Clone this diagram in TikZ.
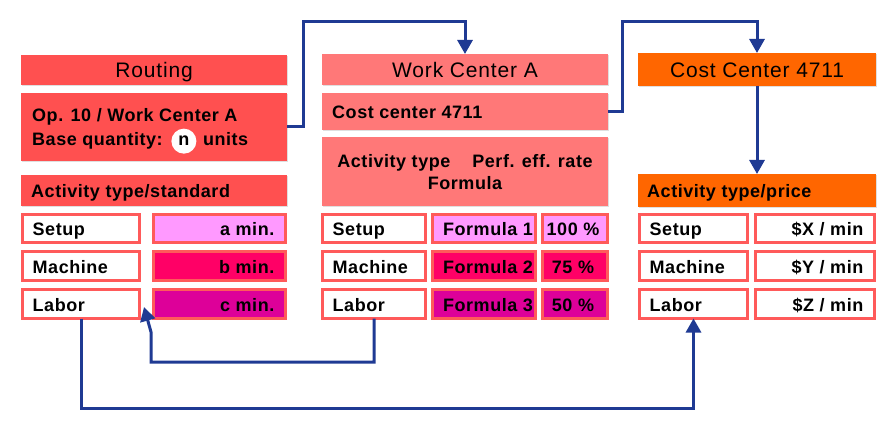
\documentclass[tikz,border=0pt]{standalone}
\usepackage{fontspec}
\setmainfont{Liberation Sans}
\newfontfamily\bodyfam{Liberation Sans}[LetterSpace=3]
\newfontfamily\headfam{Liberation Sans}[LetterSpace=4]
\usetikzlibrary{arrows.meta,shadows,calc}
\definecolor{rred}{HTML}{FF5050}
\definecolor{wred}{HTML}{FF7878}
\definecolor{corange}{HTML}{FF6600}
\definecolor{bord}{HTML}{FF5A5A}
\definecolor{lpink}{HTML}{FF99FF}
\definecolor{hpink}{HTML}{FF0066}
\definecolor{magen}{HTML}{DD0099}
\definecolor{arrblue}{HTML}{1F3A93}
\newcommand\boxnode[6]{\node[#2, anchor=north west, minimum width={(#5-#3)*1pt}, minimum height={(#6-#4)*1pt}] (#1) at (#3,#4) {};}
\newcommand\cellnode[6]{\node[#2, anchor=north west, minimum width={(#5-#3-3)*1pt}, minimum height={(#6-#4-3)*1pt}] (#1) at ({#3+1.5},{#4+1.5}) {};}
\begin{document}
\begin{tikzpicture}[x=1pt,y=-1pt,
  hdr/.style={fill=#1, draw=none, inner sep=0pt, outer sep=0pt,
    drop shadow={shadow xshift=1.2pt, shadow yshift=-1.5pt, opacity=0.25}},
  cellst/.style={fill=#1, draw=bord, line width=3pt, inner sep=0pt, outer sep=0pt},
  bt/.style={inner sep=0pt, font=\bodyfam\bfseries\fontsize{18}{22}\selectfont},
  ht/.style={inner sep=0pt, font=\headfam\fontsize{21}{25}\selectfont},
  link/.style={draw=arrblue, line width=3pt},
  arr/.style={link, -{Triangle[width=15pt,length=14pt]}}
]
\useasboundingbox (0,0) rectangle (890,430);
% ---------------- Routing column
\boxnode{rhead}{hdr=rred}{21}{55}{287}{85}
\boxnode{rop}{hdr=rred}{21}{93}{287}{161}
\boxnode{rstd}{hdr=rred}{21}{175}{287}{206}
\cellnode{rset}{cellst=white}{21}{213}{141}{244}
\cellnode{rsetv}{cellst=lpink}{152}{213}{287}{244}
\cellnode{rmac}{cellst=white}{21}{250}{141}{282}
\cellnode{rmacv}{cellst=hpink}{152}{250}{287}{282}
\cellnode{rlab}{cellst=white}{21}{288}{141}{320}
\cellnode{rlabv}{cellst=magen}{152}{288}{287}{320}
% ---------------- Work center column
\boxnode{whead}{hdr=wred}{322}{54}{608}{85}
\boxnode{wcc}{hdr=wred}{322}{93}{608}{130}
\boxnode{wact}{hdr=wred}{322}{137}{608}{206}
\cellnode{wset}{cellst=white}{321}{213}{427}{244}
\cellnode{wsetf}{cellst=lpink}{431}{213}{537}{244}
\cellnode{wsetp}{cellst=lpink}{541}{213}{609}{244}
\cellnode{wmac}{cellst=white}{321}{250}{427}{282}
\cellnode{wmacf}{cellst=hpink}{431}{250}{537}{282}
\cellnode{wmacp}{cellst=hpink}{541}{250}{609}{282}
\cellnode{wlab}{cellst=white}{321}{288}{427}{320}
\cellnode{wlabf}{cellst=magen}{431}{288}{537}{320}
\cellnode{wlabp}{cellst=magen}{541}{288}{609}{320}
% ---------------- Cost center column
\boxnode{chead}{hdr=corange}{638}{53}{876}{86}
\boxnode{cact}{hdr=corange}{638}{174}{876}{207}
\cellnode{cset}{cellst=white}{638}{213}{749}{244}
\cellnode{csetv}{cellst=white}{754}{213}{876}{244}
\cellnode{cmac}{cellst=white}{638}{250}{749}{282}
\cellnode{cmacv}{cellst=white}{754}{250}{876}{282}
\cellnode{clab}{cellst=white}{638}{288}{749}{320}
\cellnode{clabv}{cellst=white}{754}{288}{876}{320}
% ---------------- texts
\node[ht, anchor=base] (rheadt) at ([shift={(0,8)}]rhead.center) {Routing};
\node[bt, anchor=base west] (ropt1) at (32,122) {Op. 10 / Work Center A};
\node[bt, anchor=base west] (ropt2) at (32,146) {Base quantity:};
\node[bt, circle, fill=white, minimum size=25pt, anchor=base] (nval) at ([xshift=21pt]ropt2.base east) {n};
\node[bt, anchor=base west] (ropt3) at ([xshift=19pt]nval.base) {units};
\node[bt, anchor=base west] (rstdt) at ([shift={(10,7)}]rstd.west) {Activity type/standard};
\node[bt, anchor=base west] (rsett) at ([shift={(10,7)}]rset.west) {Setup};
\node[bt, anchor=base west] (rmact) at ([shift={(10,7)}]rmac.west) {Machine};
\node[bt, anchor=base west] (rlabt) at ([shift={(10,7)}]rlab.west) {Labor};
\node[bt, anchor=base east] (rsetvt) at ([shift={(-11,7)}]rsetv.east) {a min.};
\node[bt, anchor=base east] (rmacvt) at ([shift={(-11,7)}]rmacv.east) {b min.};
\node[bt, anchor=base east] (rlabvt) at ([shift={(-11,7)}]rlabv.east) {c min.};
%
\node[ht, anchor=base] (wheadt) at ([shift={(0,8)}]whead.center) {Work Center A};
\node[bt, anchor=base west] (wcct) at ([shift={(10,7)}]wcc.west) {Cost center 4711};
\node[bt, anchor=base] (wactt1) at (465,168) {Activity type\hspace{22pt}Perf. eff. rate};
\node[bt, anchor=base] (wactt2) at (465,190) {Formula};
\node[bt, anchor=base west] (wsett) at ([shift={(10,7)}]wset.west) {Setup};
\node[bt, anchor=base west] (wmact) at ([shift={(10,7)}]wmac.west) {Machine};
\node[bt, anchor=base west] (wlabt) at ([shift={(10,7)}]wlab.west) {Labor};
\node[bt, anchor=base] (wsetft) at ([shift={(4,7)}]wsetf.center) {Formula 1};
\node[bt, anchor=base] (wmacft) at ([shift={(4,7)}]wmacf.center) {Formula 2};
\node[bt, anchor=base] (wlabft) at ([shift={(4,7)}]wlabf.center) {Formula 3};
\node[bt, anchor=base] (wsetpt) at ([shift={(-2,7)}]wsetp.center) {100 \%};
\node[bt, anchor=base] (wmacpt) at ([shift={(-2,7)}]wmacp.center) {75 \%};
\node[bt, anchor=base] (wlabpt) at ([shift={(-2,7)}]wlabp.center) {50 \%};
%
\node[ht, anchor=base] (cheadt) at ([shift={(0,8)}]chead.center) {Cost Center 4711};
\node[bt, anchor=base west] (cactt) at ([shift={(9,7)}]cact.west) {Activity type/price};
\node[bt, anchor=base west] (csett) at ([shift={(10,7)}]cset.west) {Setup};
\node[bt, anchor=base west] (cmact) at ([shift={(10,7)}]cmac.west) {Machine};
\node[bt, anchor=base west] (clabt) at ([shift={(10,7)}]clab.west) {Labor};
\node[bt, anchor=base east] (csetvt) at ([shift={(-11,7)}]csetv.east) {\$X / min};
\node[bt, anchor=base east] (cmacvt) at ([shift={(-11,7)}]cmacv.east) {\$Y / min};
\node[bt, anchor=base east] (clabvt) at ([shift={(-11,7)}]clabv.east) {\$Z / min};
% ---------------- connectors
\coordinate (t1) at (303,22);
\coordinate (t2) at (622,22);
\coordinate (b4) at (151,362);
\coordinate (b4u) at (151,332);
\coordinate (b4t) at (144,307);
\coordinate (b5) at (81,408);
\draw[arr] (rop.east) -| (t1) -| (whead.north);
\draw[arr] (wcc.east) -| (t2) -| (chead.north);
\draw[arr] (chead.south) -- (cact.north);
\draw[arr] (wlab.south) |- (b4) -- (b4u) -- (b4t);
\draw[arr] (rlab.south) -- (b5) -| (clab.south);
\end{tikzpicture}
\end{document}
